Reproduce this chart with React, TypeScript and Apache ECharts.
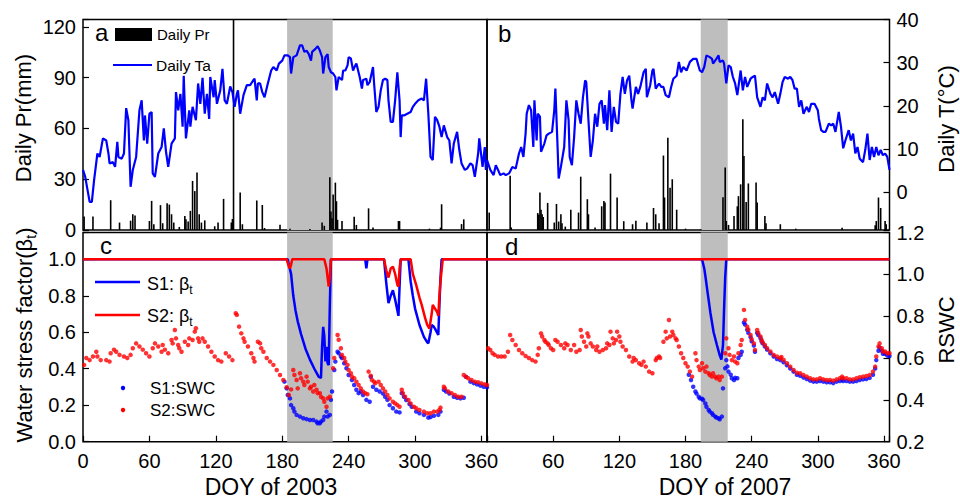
import React, { useEffect, useRef } from "react";
import * as echarts from "echarts";

const FONT = '"Liberation Sans", Arial, sans-serif';

// ---- Panel a (2003) ----
const ta2003: number[][] = [[0,5.2],[2,3.6],[6,-2.2],[8,-2.2],[10,2.8],[13,9],[15,8.2],[18,12.5],[21,12],[23,9],[24,6.7],[27,7],[29,5.9],[31,11.7],[32,8.2],[35,7.8],[37,9],[39,19.5],[41,16.7],[43,1.3],[45,5.2],[48,8.2],[51,19],[53,21.3],[55,12],[56,17.8],[58,11.3],[60,18.2],[62,18.6],[63,4.4],[65,3.6],[68,9],[71,10.5],[73,14.8],[75,9.4],[77,5.9],[80,11.3],[83,12.5],[84,23.2],[86,19],[88,22.8],[90,15.2],[91,27],[93,12.5],[96,19],[97,15.2],[99,19.8],[102,16.7],[104,25.2],[106,20.5],[108,26.5],[110,18.2],[112,22.8],[114,17],[115,26.7],[118,22],[119,26],[121,20.5],[124,23.6],[126,28.6],[128,21.3],[130,20.5],[133,24.5],[135,23.2],[137,19.8],[139,22.8],[140,23.6],[142,18.2],[145,22.5],[148,24.8],[151,24.8],[154,26],[155,26.3],[157,21.3],[158,25.2],[160,25.2],[162,23.2],[164,22],[167,25.2],[170,28.2],[172,29],[175,28.2],[177,29.8],[180,30.5],[182,31.7],[185,31.7],[187,31.3],[188,27.5],[190,31.3],[193,31.7],[196,34],[198,34],[200,32.5],[202,32.8],[204,32],[206,30.5],[207,32.5],[210,33.2],[212,33.8],[214,32.8],[216,31.3],[217,27.5],[219,31.3],[221,32],[222,29],[224,27.8],[226,27.5],[228,26.7],[229,23.6],[231,26.7],[234,26],[235,28.2],[237,28.2],[239,29.4],[240,31.3],[242,31],[244,28.2],[246,29.4],[247,29.8],[250,26.7],[252,24],[253,26],[256,26.3],[257,24.8],[259,25.5],[262,29],[263,25.2],[265,18.6],[267,19.8],[269,23.6],[271,26],[273,26.3],[275,26],[276,21.3],[278,16.3],[280,16.3],[282,21.3],[284,27.8],[286,21.3],[287,12.8],[288,17.8],[290,17.8],[293,18.2],[296,18.6],[298,19.8],[300,20.5],[303,21.3],[306,21.7],[308,21.3],[310,26.3],[312,18.2],[314,8.2],[316,7.5],[318,17.5],[320,16.7],[322,15.2],[324,12.8],[326,15.5],[329,12.8],[331,12],[333,6.7],[335,11.3],[338,14],[340,9.8],[342,6.7],[345,5.2],[347,5.5],[350,6.7],[352,6.3],[354,3.6],[357,9],[358,12.5],[361,5.9],[363,10.5],[364,5.2],[365,7.5]];

const pr2003: number[][] = [[1,8],[9,8],[25,17.6],[33,4.4],[43,5.5],[45,9.3],[47,8.5],[60,5.3],[62,17.2],[64,3.4],[70,14.7],[72,4],[76,15.8],[78,15],[80,9.3],[82,4.4],[87,1.8],[92,8.3],[93,6.3],[95,5],[97,11.3],[99,29],[101,23],[103,34],[105,9.3],[107,4.4],[110,5.7],[119,2.2],[122,4.4],[127,18.4],[134,4.4],[135,6.5],[136,140],[142,22.2],[144,3.4],[157,17.5],[162,14.8],[164,1.2],[178,3.1],[187,0.8],[205,0.6],[216,4.4],[218,2.5],[223,31.2],[224,11],[225,7],[226,21],[228,28],[229,17],[230,6],[234,5.3],[245,7.9],[247,3],[258,12.8],[262,1.5],[285,5.3],[286,5.3],[313,0.8],[323,1.4],[324,15.2],[342,3.5],[344,6.3]];

// ---- Panel b (2007) ----
const ta2007: number[][] = [[0,7.5],[3,5.2],[6,4],[8,6.3],[10,5.2],[12,4],[15,4.4],[17,4],[20,4.4],[23,5.9],[26,5.5],[29,9],[31,10.5],[33,8.2],[35,13.6],[36,18.2],[38,20.2],[40,19],[42,10.5],[43,21.3],[45,12],[46,18.2],[48,17.5],[49,9.4],[52,11.3],[54,13.2],[56,13.6],[59,14],[61,19],[62,24],[64,10.5],[65,3.2],[67,5.9],[70,10.5],[72,21.3],[74,16.7],[75,8.2],[77,6.3],[79,12.8],[81,21.3],[83,18.2],[85,15.9],[87,22],[89,25.9],[90,25.5],[92,16.7],[94,8.2],[96,12],[98,18.2],[100,15.2],[102,20.5],[104,21.3],[106,15.9],[107,20.2],[109,14.4],[111,23.6],[113,14],[115,19.8],[117,16.3],[119,15.9],[121,22.8],[123,26.7],[125,22.8],[127,25.9],[129,27],[131,21.3],[132,19.4],[135,24.4],[137,22.8],[139,24.4],[142,27.8],[144,28.6],[145,22],[148,24.8],[150,28.2],[151,28.6],[153,24],[156,25.2],[158,24.4],[160,24.4],[162,22.5],[165,22],[167,24.4],[169,26.3],[172,27],[174,30.2],[176,27.8],[178,29],[181,28.2],[184,30.2],[187,30.9],[190,30.9],[193,28.2],[195,27.8],[197,29],[199,31.7],[202,31.3],[204,30.9],[205,29.8],[208,30.9],[210,31.7],[211,30.2],[214,30.5],[215,29.8],[217,25.2],[219,29.4],[221,29],[223,26.7],[225,25.2],[227,22.5],[230,28.2],[232,23.6],[234,26.7],[236,24.4],[239,26.3],[241,26.7],[243,27],[245,22],[248,19.8],[250,22],[252,21.3],[254,25.2],[257,22.8],[259,22],[261,23.2],[264,20.5],[266,22.8],[268,25.5],[270,26.7],[273,26.3],[275,26.7],[277,26],[279,24],[281,24],[283,19.8],[285,21.3],[287,18.2],[290,19.8],[292,18.6],[294,20.5],[297,20.5],[300,19],[301,17],[303,14.4],[305,14],[307,14],[310,15.9],[312,15.5],[314,15.9],[316,14],[319,18.6],[321,15.2],[323,10.2],[325,12],[328,14.4],[330,12],[332,13.6],[334,9],[336,10.5],[338,7.8],[341,7],[343,9.8],[345,13.6],[347,7.5],[349,10.5],[351,8.2],[353,10.5],[355,8.6],[357,9.8],[359,8.6],[361,9],[363,8.2],[365,5.2]];

const pr2007: number[][] = [[2,10.3],[21,32],[22,1.5],[46,10],[47,9],[48,22.2],[49,12],[50,9.3],[51,7.7],[55,16],[61,4.4],[63,15.4],[65,5],[67,9.3],[68,4],[71,2],[76,12],[83,10.3],[85,31.5],[91,18.2],[92,9.3],[98,1.5],[104,14],[106,17.2],[107,16.2],[112,33.3],[118,19.2],[124,5.2],[132,3.4],[135,5.5],[145,4.4],[151,13],[153,9.3],[156,4],[160,44],[161,19.2],[164,54.5],[166,25],[168,30],[172,12],[180,0.8],[194,0.5],[214,19.4],[216,37],[217,5.3],[219,3],[224,8.2],[227,14],[228,20],[230,27],[232,65.5],[233,43.8],[235,16.5],[237,27.5],[244,28],[245,16.3],[252,8.2],[253,4],[266,3.4],[280,0.8],[322,1.4],[352,2.8],[353,5.3],[355,19.2],[357,13],[361,5.3],[362,3.4]];

// ---- Panel c (2003): water stress factor and relative soil water content ----
const betaS1_2003: number[][] = [[0,1],[185,1],[186,0.97],[188,0.92],[190,0.8],[192,0.72],[194,0.66],[197,0.59],[201,0.51],[205,0.45],[209,0.4],[213,0.355],[215,0.35],[216,0.52],[217,0.63],[218,0.58],[219,0.44],[220,0.52],[221,0.43],[222,0.42],[223,0.75],[224,1],[255,1],[256,0.95],[257,1],[272,1],[274,0.87],[276,0.76],[278,0.8],[280,0.83],[282,0.78],[285,0.69],[286,0.85],[287,1],[294,1],[296,0.88],[298,0.8],[300,0.73],[304,0.64],[308,0.575],[311,0.545],[312,0.54],[314,0.6],[315,0.64],[317,0.63],[318,0.62],[321,0.585],[322,0.75],[323,0.9],[324,1],[365,1]];
const betaS2_2003: number[][] = [[0,1],[184,1],[186,0.96],[187,0.95],[188,0.97],[189,1],[218,1],[220,0.95],[222,0.85],[223,0.9],[224,1],[272,1],[274,0.94],[276,0.9],[278,0.95],[280,0.96],[282,0.92],[284,0.86],[285,0.85],[286,0.95],[287,1],[296,1],[298,0.92],[301,0.86],[304,0.79],[306,0.75],[309,0.68],[311,0.64],[313,0.62],[315,0.7],[316,0.75],[318,0.73],[320,0.71],[321,0.69],[322,0.8],[323,0.88],[325,1],[365,1]];
const swcS1_2003: number[][] = [[182,0.487],[184,0.455],[185,0.423],[187,0.407],[188,0.375],[190,0.36],[191,0.344],[193,0.328],[196,0.32],[199,0.312],[202,0.308],[205,0.304],[208,0.304],[211,0.296],[212,0.288],[214,0.288],[215,0.296],[217,0.304],[218,0.32],[220,0.344],[221,0.32],[223,0.328],[224,0.4],[225,0.44],[227,0.543],[228,0.583],[230,0.63],[231,0.623],[233,0.607],[234,0.6],[236,0.575],[238,0.551],[240,0.519],[243,0.495],[245,0.471],[247,0.448],[249,0.432],[251,0.44],[253,0.423],[256,0.4],[259,0.391],[260,0.51],[262,0.463],[265,0.448],[268,0.44],[271,0.43],[273,0.415],[275,0.4],[277,0.375],[280,0.36],[283,0.344],[286,0.34],[288,0.432],[290,0.415],[292,0.399],[295,0.38],[297,0.367],[301,0.344],[304,0.336],[308,0.328],[312,0.315],[314,0.318],[317,0.324],[321,0.328],[323,0.344],[326,0.448],[328,0.44],[331,0.43],[335,0.415],[338,0.41],[341,0.407],[344,0.41],[346,0.51],[350,0.487],[353,0.48],[356,0.474],[359,0.468],[362,0.463],[365,0.46]];
const swcS2_2003: number[][] = [[1,0.567],[3,0.6],[6,0.59],[9,0.607],[12,0.63],[13,0.607],[16,0.59],[21,0.59],[24,0.583],[25,0.623],[28,0.64],[30,0.63],[33,0.615],[37,0.607],[40,0.6],[43,0.615],[45,0.647],[48,0.67],[51,0.655],[54,0.64],[57,0.623],[60,0.607],[63,0.647],[65,0.67],[68,0.655],[71,0.63],[72,0.662],[74,0.64],[77,0.623],[80,0.686],[81,0.67],[83,0.734],[84,0.694],[86,0.662],[87,0.647],[89,0.63],[92,0.678],[95,0.662],[96,0.694],[99,0.686],[101,0.726],[102,0.742],[104,0.694],[105,0.678],[108,0.694],[110,0.678],[113,0.655],[116,0.63],[119,0.607],[122,0.59],[125,0.583],[129,0.623],[132,0.607],[135,0.59],[138,0.814],[139,0.806],[141,0.75],[143,0.718],[145,0.694],[146,0.678],[149,0.655],[152,0.623],[154,0.6],[155,0.583],[158,0.678],[160,0.67],[161,0.647],[163,0.63],[166,0.6],[169,0.583],[172,0.567],[175,0.543],[178,0.519],[181,0.495],[184,0.46],[186,0.423],[188,0.45],[190,0.543],[191,0.519],[193,0.495],[194,0.455],[196,0.527],[197,0.503],[199,0.487],[200,0.471],[202,0.511],[203,0.487],[205,0.455],[206,0.463],[208,0.44],[209,0.471],[211,0.448],[212,0.432],[214,0.432],[215,0.415],[217,0.407],[218,0.391],[220,0.367],[221,0.407],[223,0.415],[226,0.551],[227,0.6],[230,0.71],[231,0.687],[233,0.647],[234,0.615],[236,0.6],[237,0.583],[239,0.567],[240,0.543],[242,0.527],[243,0.511],[245,0.503],[247,0.487],[249,0.471],[251,0.455],[253,0.44],[255,0.432],[257,0.427],[258,0.535],[260,0.515],[261,0.495],[263,0.487],[264,0.479],[267,0.487],[269,0.471],[271,0.455],[273,0.44],[275,0.423],[277,0.407],[280,0.391],[282,0.383],[284,0.375],[286,0.367],[288,0.448],[289,0.432],[291,0.415],[294,0.399],[296,0.383],[299,0.367],[301,0.36],[304,0.352],[308,0.344],[311,0.336],[314,0.336],[317,0.344],[320,0.344],[322,0.352],[323,0.363],[326,0.463],[327,0.455],[330,0.44],[333,0.432],[336,0.423],[339,0.415],[342,0.415],[344,0.519],[346,0.51],[348,0.503],[351,0.495],[354,0.487],[357,0.484],[360,0.479],[363,0.474],[365,0.471]];

// ---- Panel d (2007) ----
const betaS1_2007: number[][] = [[0,1],[195,1],[197,0.95],[198,0.91],[200,0.82],[202.5,0.71],[205.5,0.6],[208.5,0.53],[211,0.475],[212.5,0.45],[213,0.448],[214,0.53],[215,0.73],[216,0.9],[217,1],[365,1]];
const betaS2_2007: number[][] = [[0,1],[365,1]];
const swcS1_2007: number[][] = [[183,0.52],[185,0.495],[187,0.463],[189,0.44],[190,0.43],[192,0.415],[193,0.407],[195,0.405],[196,0.399],[198,0.383],[199,0.367],[201,0.352],[202,0.344],[204,0.336],[205,0.328],[207,0.32],[208,0.316],[210,0.312],[211,0.307],[213,0.32],[214,0.455],[216,0.551],[217,0.59],[218,0.56],[219,0.535],[221,0.52],[222,0.503],[224,0.495],[225,0.505],[227,0.503],[228,0.6],[230,0.615],[231,0.63],[233,0.77],[234,0.76],[236,0.735],[237,0.72],[239,0.7],[240,0.68],[242,0.66],[243,0.63],[245,0.72],[246,0.71],[248,0.695],[249,0.68],[250,0.67],[252,0.655],[254,0.64],[257,0.623],[260,0.607],[263,0.595],[266,0.59],[269,0.58],[272,0.565],[275,0.55],[278,0.535],[281,0.52],[284,0.515],[287,0.507],[290,0.5],[293,0.492],[296,0.487],[299,0.487],[302,0.49],[305,0.487],[308,0.484],[311,0.484],[314,0.48],[317,0.487],[320,0.49],[322,0.497],[323,0.49],[326,0.49],[329,0.487],[332,0.487],[335,0.49],[338,0.495],[341,0.498],[344,0.5],[347,0.505],[350,0.52],[352,0.55],[353,0.59],[355,0.635],[356,0.65],[358,0.635],[359,0.62],[361,0.62],[363,0.612],[365,0.61]];
const swcS2_2007: number[][] = [[1,0.647],[3,0.638],[5,0.623],[7,0.615],[10,0.607],[13,0.607],[16,0.607],[19,0.63],[21,0.71],[23,0.686],[26,0.662],[29,0.638],[32,0.623],[35,0.61],[38,0.6],[41,0.59],[44,0.583],[46,0.615],[47,0.647],[49,0.718],[50,0.703],[52,0.686],[53,0.678],[55,0.67],[56,0.662],[58,0.647],[60,0.638],[62,0.686],[64,0.678],[67,0.662],[70,0.647],[71,0.67],[73,0.662],[76,0.638],[79,0.662],[81,0.63],[84,0.638],[85,0.734],[86,0.703],[88,0.678],[90,0.655],[91,0.718],[92,0.703],[94,0.67],[96,0.655],[99,0.638],[100,0.655],[102,0.63],[105,0.638],[108,0.647],[109,0.67],[111,0.662],[112,0.726],[114,0.694],[115,0.67],[117,0.686],[118,0.726],[120,0.703],[121,0.678],[123,0.655],[126,0.638],[129,0.607],[132,0.583],[133,0.6],[135,0.59],[138,0.575],[140,0.567],[142,0.583],[144,0.559],[147,0.535],[150,0.527],[153,0.59],[154,0.6],[156,0.607],[157,0.6],[160,0.678],[162,0.726],[163,0.694],[165,0.782],[166,0.703],[168,0.726],[169,0.71],[171,0.694],[172,0.686],[174,0.655],[176,0.623],[178,0.6],[180,0.575],[182,0.559],[184,0.535],[186,0.511],[189,0.623],[190,0.59],[192,0.559],[193,0.543],[195,0.575],[196,0.551],[198,0.535],[199,0.559],[201,0.527],[202,0.519],[204,0.511],[205,0.527],[207,0.511],[208,0.503],[210,0.511],[211,0.495],[213,0.511],[216,0.623],[217,0.694],[219,0.647],[220,0.615],[222,0.59],[224,0.607],[225,0.583],[227,0.575],[228,0.623],[230,0.662],[231,0.686],[233,0.83],[234,0.782],[236,0.75],[237,0.735],[239,0.71],[240,0.69],[242,0.67],[243,0.638],[245,0.734],[246,0.72],[248,0.703],[249,0.686],[250,0.675],[252,0.662],[254,0.647],[257,0.631],[260,0.615],[263,0.607],[266,0.599],[267,0.605],[269,0.591],[272,0.575],[275,0.559],[278,0.543],[281,0.53],[284,0.527],[287,0.519],[290,0.511],[293,0.503],[296,0.498],[299,0.498],[302,0.503],[305,0.498],[308,0.495],[311,0.495],[314,0.492],[317,0.498],[320,0.503],[322,0.511],[323,0.503],[326,0.503],[329,0.498],[332,0.498],[335,0.503],[338,0.508],[341,0.511],[344,0.514],[347,0.519],[350,0.535],[352,0.559],[353,0.607],[355,0.655],[356,0.67],[358,0.647],[359,0.631],[361,0.631],[363,0.623],[365,0.623]];

const shade2003 = [184.4, 225.6];
const shade2007 = [193.8, 218.3];

const BLUE = "#0000ff";
const RED = "#ff0000";
const SHADE = "#bebebe";

function App() {
  const ref = useRef<HTMLDivElement>(null);
  useEffect(() => {
    if (!ref.current) return;
    const chart = echarts.init(ref.current, undefined, { renderer: "svg" });
    const tick = { show: true, inside: true, length: 6, lineStyle: { color: "#000", width: 1.2 } };
    const lbl = { fontSize: 20, color: "#000", fontFamily: FONT };
    const gridBase = { show: true, borderColor: "#000", borderWidth: 1.5, backgroundColor: "transparent" };
    const xAx = (i: number) => ({
      type: "value", gridIndex: i, min: 0, max: 365, interval: 60,
      axisLine: { show: false }, splitLine: { show: false },
      axisTick: i >= 2 ? tick : { show: false },
      axisLabel: i >= 2 ? {
        ...lbl, margin: 9,
        formatter: (v: number) => (v % 60 === 0 && !(i === 3 && v === 0) ? String(v) : ""),
      } : { show: false },
    });
    const hidden = (i: number, min: number, max: number) => ({
      type: "value", gridIndex: i, min, max, show: false, splitLine: { show: false },
    });
    const markArea = (r: number[]) => ({
      silent: true, label: { show: false }, itemStyle: { color: SHADE },
      data: [[{ xAxis: r[0] }, { xAxis: r[1] }]],
    });
    const txt = (text: string, x: number, y: number, fontSize: number, align = "left", rotation = 0) => ({
      type: "text", x, y, rotation,
      style: { text, fontSize, fontFamily: FONT, fill: "#000", align, verticalAlign: "middle", textAlign: align, textVerticalAlign: "middle" },
    });
    const subRich = (m: number, s: number, lh: number) => ({
      m: { fontSize: m, fontFamily: FONT, lineHeight: lh, verticalAlign: "middle", fill: "#000" },
      s: { fontSize: s, fontFamily: FONT, lineHeight: s, verticalAlign: "bottom", fill: "#000" },
    });
    const option: any = {
      animation: false,
      backgroundColor: "#ffffff",
      grid: [
        { ...gridBase, left: 83, width: 404, top: 19.5, height: 210.5 },
        { ...gridBase, left: 487, width: 402.5, top: 19.5, height: 210.5 },
        { ...gridBase, left: 83, width: 404, top: 232.5, height: 209.2 },
        { ...gridBase, left: 487, width: 402.5, top: 232.5, height: 209.2 },
      ],
      xAxis: [xAx(0), xAx(1), xAx(2), xAx(3)],
      yAxis: [
        {
          type: "value", gridIndex: 0, position: "left", min: 0, max: 124.4, interval: 30,
          axisLine: { show: false }, splitLine: { show: false }, axisTick: tick,
          axisLabel: { ...lbl, margin: 7, formatter: (v: number) => (v % 30 === 0 ? String(v) : "") },
        },
        hidden(0, -8.7, 40),
        hidden(1, 0, 124.4),
        {
          type: "value", gridIndex: 1, position: "right", min: -8.7, max: 40,
          splitNumber: 5, minInterval: 10, maxInterval: 10,
          axisLine: { show: false }, splitLine: { show: false }, axisTick: tick,
          axisLabel: { ...lbl, margin: 7, formatter: (v: number) => (Math.abs(v % 10) < 1e-6 ? String(v) : "") },
        },
        {
          type: "value", gridIndex: 2, position: "left", min: 0, max: 1.147, interval: 0.2,
          axisLine: { show: false }, splitLine: { show: false }, axisTick: tick,
          axisLabel: { ...lbl, margin: 7, formatter: (v: number) => (v <= 1.0001 ? v.toFixed(1) : "") },
        },
        hidden(2, 0.2, 1.2),
        hidden(3, 0, 1.147),
        {
          type: "value", gridIndex: 3, position: "right", min: 0.2, max: 1.2, interval: 0.2,
          axisLine: { show: false }, splitLine: { show: false }, axisTick: tick,
          axisLabel: { ...lbl, margin: 7, formatter: (v: number) => v.toFixed(1) },
        },
      ],
      series: [
        { type: "bar", name: "Daily Pr", xAxisIndex: 0, yAxisIndex: 0, data: pr2003, barWidth: 1.6,
          itemStyle: { color: "#000" }, markArea: markArea(shade2003), z: 3 },
        { type: "line", name: "Daily Ta", xAxisIndex: 0, yAxisIndex: 1, data: ta2003, symbol: "none",
          lineStyle: { color: BLUE, width: 2.2 }, itemStyle: { color: BLUE }, z: 4 },
        { type: "bar", name: "Daily Pr 2007", xAxisIndex: 1, yAxisIndex: 2, data: pr2007, barWidth: 1.6,
          itemStyle: { color: "#000" }, markArea: markArea(shade2007), z: 3 },
        { type: "line", name: "Daily Ta 2007", xAxisIndex: 1, yAxisIndex: 3, data: ta2007, symbol: "none",
          lineStyle: { color: BLUE, width: 2.2 }, itemStyle: { color: BLUE }, z: 4 },
        { type: "line", name: "S1: βt", xAxisIndex: 2, yAxisIndex: 4, data: betaS1_2003, symbol: "none",
          lineStyle: { color: BLUE, width: 2.5 }, itemStyle: { color: BLUE }, markArea: markArea(shade2003), z: 3 },
        { type: "line", name: "S2: βt", xAxisIndex: 2, yAxisIndex: 4, data: betaS2_2003, symbol: "none",
          lineStyle: { color: RED, width: 2.5 }, itemStyle: { color: RED }, z: 4 },
        { type: "scatter", name: "S1:SWC", xAxisIndex: 2, yAxisIndex: 5, data: swcS1_2003, symbolSize: 4.5,
          itemStyle: { color: BLUE }, z: 5 },
        { type: "scatter", name: "S2:SWC", xAxisIndex: 2, yAxisIndex: 5, data: swcS2_2003, symbolSize: 4.5,
          itemStyle: { color: RED }, z: 6 },
        { type: "line", name: "S1: βt 2007", xAxisIndex: 3, yAxisIndex: 6, data: betaS1_2007, symbol: "none",
          lineStyle: { color: BLUE, width: 2.5 }, itemStyle: { color: BLUE }, markArea: markArea(shade2007), z: 3 },
        { type: "line", name: "S2: βt 2007", xAxisIndex: 3, yAxisIndex: 6, data: betaS2_2007, symbol: "none",
          lineStyle: { color: RED, width: 2.5 }, itemStyle: { color: RED }, z: 4 },
        { type: "scatter", name: "S1:SWC 2007", xAxisIndex: 3, yAxisIndex: 7, data: swcS1_2007, symbolSize: 4.5,
          itemStyle: { color: BLUE }, z: 5 },
        { type: "scatter", name: "S2:SWC 2007", xAxisIndex: 3, yAxisIndex: 7, data: swcS2_2007, symbolSize: 4.5,
          itemStyle: { color: RED }, z: 6 },
      ],
      graphic: [
        // panel letters
        txt("a", 95, 32, 24),
        txt("b", 498, 33.5, 24),
        txt("c", 100, 245, 24),
        txt("d", 505, 246.5, 24),
        // legend a
        { type: "rect", shape: { x: 115, y: 28, width: 37, height: 13 }, style: { fill: "#000" } },
        txt("Daily Pr", 157, 34.5, 15),
        { type: "line", shape: { x1: 113, y1: 65, x2: 152, y2: 65 }, style: { stroke: BLUE, lineWidth: 2 } },
        txt("Daily Ta", 156, 65, 15.5),
        // legend c
        { type: "line", shape: { x1: 95, y1: 282, x2: 140, y2: 282 }, style: { stroke: BLUE, lineWidth: 2.5 } },
        { type: "text", x: 147, y: 284, style: { text: "{m|S1: β}{s|t}", fill: "#000", align: "left", verticalAlign: "middle", textAlign: "left", textVerticalAlign: "middle", rich: subRich(18, 12, 24) } },
        { type: "line", shape: { x1: 95, y1: 315, x2: 140, y2: 315 }, style: { stroke: RED, lineWidth: 2.5 } },
        { type: "text", x: 147, y: 316, style: { text: "{m|S2: β}{s|t}", fill: "#000", align: "left", verticalAlign: "middle", textAlign: "left", textVerticalAlign: "middle", rich: subRich(18, 12, 24) } },
        { type: "circle", shape: { cx: 123, cy: 388, r: 2.2 }, style: { fill: BLUE } },
        txt("S1:SWC", 150, 388, 17),
        { type: "circle", shape: { cx: 123, cy: 410, r: 2.2 }, style: { fill: RED } },
        txt("S2:SWC", 150, 410, 17),
        // axis titles
        txt("Daily Pr(mm)", 23, 118, 22, "center", Math.PI / 2),
        { type: "text", x: 24, y: 335, rotation: Math.PI / 2, style: { text: "{m|Water stress factor(β}{s|t}{m|)}", fill: "#000", align: "center", verticalAlign: "middle", textAlign: "center", textVerticalAlign: "middle", rich: subRich(22, 14, 28) } },
        txt("Daily T(°C)", 946, 119, 22, "center", Math.PI / 2),
        txt("RSWC", 946, 330, 22, "center", Math.PI / 2),
        txt("DOY of 2003", 271, 487, 23, "center"),
        txt("DOY of 2007", 725, 487, 23, "center"),
      ],
    };
    chart.setOption(option);
    return () => chart.dispose();
  }, []);
  return (
    <div
      ref={ref}
      style={{ position: "fixed", left: 0, top: 0, width: 960, height: 499, background: "#fff" }}
    />
  );
}

export default App;
